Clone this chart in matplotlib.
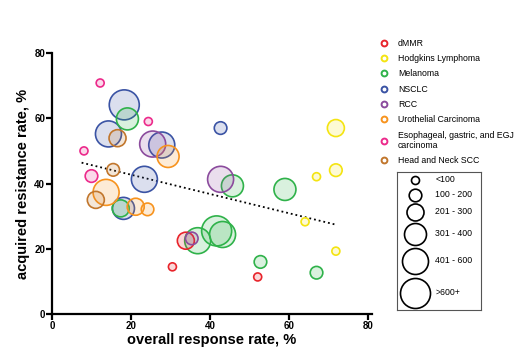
import matplotlib
matplotlib.use('Agg')
import matplotlib.pyplot as plt
from matplotlib.lines import Line2D

plt.rcParams['font.family'] = ['Liberation Sans', 'DejaVu Sans']

# data: (overall response rate %, acquired resistance rate %, size class 1..6)
dmmr_x = [33.9, 30.5, 52.1]
dmmr_y = [22.5, 14.5, 11.4]
dmmr_s = [3, 1, 1]

hodg_x = [71.9, 71.9, 67.0, 64.1, 71.9]
hodg_y = [57.0, 44.1, 42.1, 28.3, 19.3]
hodg_s = [3, 2, 1, 1, 1]

mel_x = [19.1, 17.4, 36.9, 41.7, 43.2, 45.7, 59.0, 52.8, 67.0]
mel_y = [59.8, 32.4, 22.5, 25.5, 24.4, 39.3, 38.2, 16.0, 12.7]
mel_s = [4, 3, 5, 6, 5, 4, 4, 2, 2]

nsclc_x = [18.3, 14.3, 27.8, 23.4, 18.1, 42.7]
nsclc_y = [64.1, 55.2, 51.8, 41.3, 32.4, 57.0]
nsclc_s = [6, 5, 5, 5, 4, 2]

rcc_x = [25.5, 42.7, 35.4]
rcc_y = [52.1, 41.3, 23.2]
rcc_s = [5, 5, 2]

uro_x = [29.4, 13.7, 21.2, 24.2]
uro_y = [48.3, 37.3, 32.9, 32.1]
uro_s = [4, 5, 3, 2]

eso_x = [12.2, 24.4, 8.1, 10.0]
eso_y = [70.8, 59.0, 50.0, 42.3]
eso_s = [1, 1, 1, 2]

hn_x = [16.6, 15.5, 11.1]
hn_y = [53.9, 44.2, 35.0]
hn_s = [3, 2, 3]

trend_x = [7.5, 71.6]
trend_y = [46.4, 27.5]

size_labels = ['<100', '100 - 200', '201 - 300', '301 - 400', '401 - 600', '>600+']

# marker radius (px) per size class
radius_px = {1: 4.0, 2: 6.3, 3: 8.5, 4: 11.0, 5: 13.0, 6: 15.0}


def area(classes):
    return [(2 * radius_px[c] * 0.72) ** 2 for c in classes]


groups = {
    'dMMR': (dmmr_x, dmmr_y, dmmr_s, '#e8242b'),
    'Hodgkins Lymphoma': (hodg_x, hodg_y, hodg_s, '#f4e411'),
    'Melanoma': (mel_x, mel_y, mel_s, '#2fb24a'),
    'NSCLC': (nsclc_x, nsclc_y, nsclc_s, '#3a53a4'),
    'RCC': (rcc_x, rcc_y, rcc_s, '#8b4b9d'),
    'Urothelial Carcinoma': (uro_x, uro_y, uro_s, '#f7931e'),
    'Esophageal, gastric, and EGJ\ncarcinoma': (eso_x, eso_y, eso_s, '#ec2a8b'),
    'Head and Neck SCC': (hn_x, hn_y, hn_s, '#c1762c'),
}
draw_order = ['NSCLC', 'Melanoma', 'dMMR', 'RCC', 'Urothelial Carcinoma',
              'Head and Neck SCC', 'Esophageal, gastric, and EGJ\ncarcinoma',
              'Hodgkins Lymphoma']

fig = plt.figure(figsize=(5.2, 3.53), dpi=100)
ax = fig.add_axes([0.1, 0.11, 0.615, 0.74])

ax.plot(trend_x, trend_y, color='black', linestyle=':', linewidth=1.3, zorder=1)

for name in draw_order:
    x, y, s, c = groups[name]
    ax.scatter(x, y, s=area(s), facecolor=matplotlib.colors.to_rgba(c, 0.18),
               edgecolor=c, linewidth=1.2, zorder=2)

ax.set_xlim(0, 81)
ax.set_ylim(0, 80)
ax.set_xticks([0, 20, 40, 60, 80])
ax.set_yticks([0, 20, 40, 60, 80])
for sp in ['top', 'right']:
    ax.spines[sp].set_visible(False)
for sp in ['left', 'bottom']:
    ax.spines[sp].set_linewidth(1.6)
ax.tick_params(width=1.6, length=4, labelsize=7, pad=1)
for lbl in ax.get_xticklabels() + ax.get_yticklabels():
    lbl.set_fontweight('bold')
ax.set_xlabel('overall response rate, %', fontsize=10.5, fontweight='bold', labelpad=1)
ax.set_ylabel('acquired resistance rate, %', fontsize=10.5, fontweight='bold', labelpad=3)

# category legend
handles = [Line2D([], [], marker='o', linestyle='none', markersize=4.2,
                  markerfacecolor='white', markeredgecolor=groups[n][3],
                  markeredgewidth=1.4) for n in groups]
fig.legend(handles, list(groups.keys()), loc='upper left',
           bbox_to_anchor=(0.73, 0.89), frameon=False, fontsize=6.3,
           handlelength=1.0, handletextpad=1.1, labelspacing=0.72,
           borderpad=0, borderaxespad=0)

# size key
kax = fig.add_axes([0.763, 0.122, 0.1615, 0.391])
kax.set_xlim(0, 1)
kax.set_ylim(0, 1)
kax.set_xticks([])
kax.set_yticks([])
for sp in kax.spines.values():
    sp.set_edgecolor('#555555')
    sp.set_linewidth(0.8)
key_y = [0.942, 0.836, 0.710, 0.551, 0.355, 0.123]
for i, lab in enumerate(size_labels):
    kax.scatter([0.214], [key_y[i]], s=area([i + 1]), facecolor='white',
                edgecolor='black', linewidth=1.2, clip_on=False)
    kax.text(0.46, key_y[i], lab, fontsize=6.3, va='center', ha='left')

fig.savefig('out.png', dpi=100)
